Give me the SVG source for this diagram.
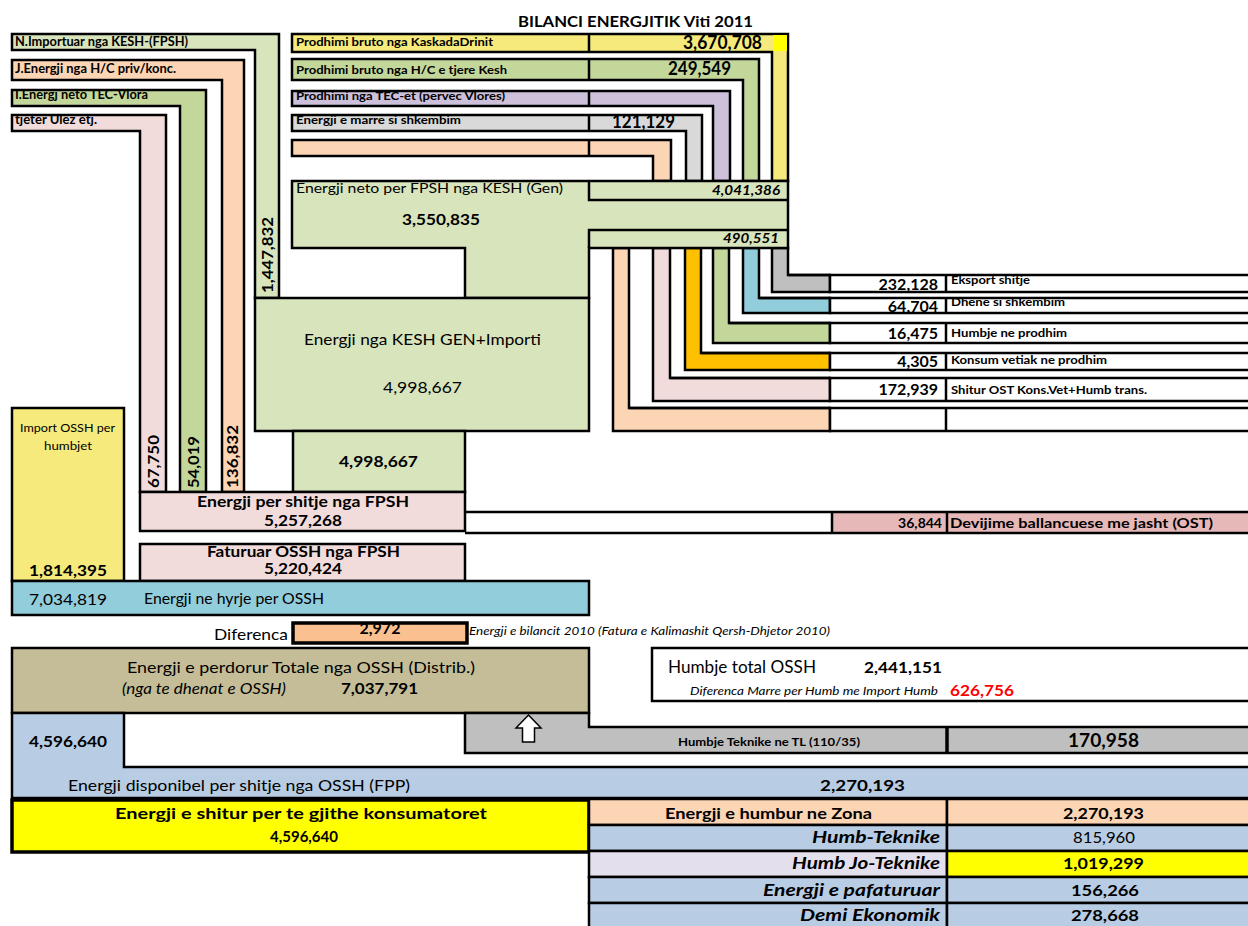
<svg xmlns="http://www.w3.org/2000/svg" width="1248" height="926" viewBox="0 0 1248 926">
<style>
text{font-family:Lato,"Liberation Sans",sans-serif;fill:#000}
.b{font-weight:bold}
.i{font-style:italic}
.k{stroke:#000;stroke-width:2.5}
.kt{stroke:#000;stroke-width:3.5}
.ln{stroke:#000;stroke-width:2.5;fill:none}
.w{fill:#fff}
.lg{fill:#D8E4BC}
.g{fill:#C4D79B}
.o{fill:#FCD5B4}
.p{fill:#F2DCDB}
.v{fill:#CCC0DA}
.gl{fill:#D9D9D9}
.y{fill:#F5EA7B}
.gr{fill:#BFBFBF}
.bl{fill:#92CDDC}
.bg{fill:#B8CCE4}
</style>
<rect width="1248" height="926" fill="#fff"/>
<text x="518" y="27" class="b" font-size="16" textLength="235" lengthAdjust="spacingAndGlyphs">BILANCI ENERGJITIK Viti 2011</text>

<g id="connectors">
  <polygon class="lg k" points="12,34 279,34 279,298 255,298 255,50 12,50"/>
  <polygon class="o k" points="12,60 244,60 244,492 222,492 222,80 12,80"/>
  <polygon class="g k" points="12,90 206,90 206,492 180,492 180,106 12,106"/>
  <polygon class="p k" points="12,115 166,115 166,492 140,492 140,131 12,131"/>
  <polygon class="y k" points="292,34 788,34 788,181 772,181 772,52 292,52"/>
  <rect x="773" y="35" width="14" height="16" fill="#FFFF00"/>
  <polygon class="g k" points="292,59 759,59 759,181 743,181 743,80 292,80"/>
  <polygon class="v k" points="292,91 730,91 730,181 713,181 713,106 292,106"/>
  <polygon class="gl k" points="292,115 702,115 702,181 686,181 686,131 292,131"/>
  <polygon class="o k" points="292,140 671,140 671,181 653,181 653,156 292,156"/>
  <path class="ln" d="M589,34V52M589,59V80M589,91V106M589,115V131M589,140V156"/>
  <polygon class="gr k" points="772,248 788,248 788,275 830,275 830,292 772,292"/>
  <polygon class="bl k" points="743,248 759,248 759,298 830,298 830,313 743,313"/>
  <polygon class="g k" points="713,248 729,248 729,323 830,323 830,343 713,343"/>
  <polygon fill="#FFC000" class="k" points="685,248 701,248 701,353 830,353 830,370 685,370"/>
  <polygon class="p k" points="653,248 670,248 670,378 830,378 830,401 653,401"/>
  <polygon class="o k" points="613,248 629,248 629,408 830,408 830,431 613,431"/>
</g>

<g id="in-labels">
  <text x="15" y="46" class="b" font-size="13" textLength="173" lengthAdjust="spacingAndGlyphs">N.Importuar nga KESH-(FPSH)</text>
  <text x="15" y="73" class="b" font-size="13" textLength="161" lengthAdjust="spacingAndGlyphs">J.Energji nga H/C priv/konc.</text>
  <text x="15" y="99" class="b" font-size="13" textLength="133" lengthAdjust="spacingAndGlyphs">I.Energj neto TEC-Vlora</text>
  <text x="15" y="124" class="b" font-size="13" textLength="82" lengthAdjust="spacingAndGlyphs">tjeter Ulez etj.</text>
  <text x="296" y="46" class="b" font-size="12" textLength="197" lengthAdjust="spacingAndGlyphs">Prodhimi bruto nga KaskadaDrinit</text>
  <text x="296" y="74" class="b" font-size="12" textLength="211" lengthAdjust="spacingAndGlyphs">Prodhimi bruto nga H/C e tjere Kesh</text>
  <text x="296" y="100" class="b" font-size="12" textLength="209" lengthAdjust="spacingAndGlyphs">Prodhimi nga TEC-et (pervec Vlores)</text>
  <text x="296" y="124" class="b" font-size="12" textLength="165" lengthAdjust="spacingAndGlyphs">Energji e marre si shkembim</text>
  <text x="683" y="49" class="b" font-size="18" textLength="79" lengthAdjust="spacingAndGlyphs">3,670,708</text>
  <text x="668" y="75" class="b" font-size="18" textLength="63" lengthAdjust="spacingAndGlyphs">249,549</text>
  <text x="612" y="128" class="b" font-size="18" textLength="63" lengthAdjust="spacingAndGlyphs">121,129</text>
  <g class="b" font-size="16">
    <text transform="translate(159,488) rotate(-90)" textLength="53" lengthAdjust="spacingAndGlyphs">67,750</text>
    <text transform="translate(199,488) rotate(-90)" textLength="52" lengthAdjust="spacingAndGlyphs">54,019</text>
    <text transform="translate(238,488) rotate(-90)" textLength="63" lengthAdjust="spacingAndGlyphs">136,832</text>
    <text transform="translate(273,293) rotate(-90)" textLength="76" lengthAdjust="spacingAndGlyphs">1,447,832</text>
  </g>
</g>

<g id="net-kesh">
  <polygon class="lg k" points="292,181 788,181 788,248 589,248 589,298 465,298 465,248 292,248"/>
  <path class="ln" d="M589,181V200H788M589,248V230H788"/>
  <text x="296" y="193" font-size="14" textLength="267" lengthAdjust="spacingAndGlyphs">Energji neto per FPSH nga KESH (Gen)</text>
  <text x="402" y="225" class="b" font-size="16" textLength="78" lengthAdjust="spacingAndGlyphs">3,550,835</text>
  <text x="712" y="195" class="b i" font-size="14" textLength="68" lengthAdjust="spacingAndGlyphs">4,041,386</text>
  <text x="723" y="243" class="b i" font-size="14" textLength="56" lengthAdjust="spacingAndGlyphs">490,551</text>
</g>

<g id="out-rows">
  <g class="w k">
    <rect x="830" y="275" width="420" height="17"/>
    <rect x="830" y="298" width="420" height="15"/>
    <rect x="830" y="323" width="420" height="20"/>
    <rect x="830" y="353" width="420" height="17"/>
    <rect x="830" y="378" width="420" height="23"/>
    <rect x="830" y="408" width="420" height="23"/>
  </g>
  <path class="ln" d="M788,275H830M759,298H830M729,323H830M701,353H830M670,378H830M629,408H830M946,275V292M946,298V313M946,323V343M946,353V370M946,378V401M946,408V431"/>
  <g class="b" font-size="16" text-anchor="end">
    <text x="938" y="290">232,128</text>
    <text x="938" y="312">64,704</text>
    <text x="938" y="339">16,475</text>
    <text x="938" y="367">4,305</text>
    <text x="938" y="395">172,939</text>
  </g>
  <g class="b" font-size="12">
    <text x="951" y="284" textLength="79" lengthAdjust="spacingAndGlyphs">Eksport shitje</text>
    <text x="951" y="306" textLength="114" lengthAdjust="spacingAndGlyphs">Dhene si shkembim</text>
    <text x="951" y="337" textLength="116" lengthAdjust="spacingAndGlyphs">Humbje ne prodhim</text>
    <text x="951" y="364" textLength="156" lengthAdjust="spacingAndGlyphs">Konsum vetiak ne prodhim</text>
    <text x="951" y="394" textLength="196" lengthAdjust="spacingAndGlyphs">Shitur OST Kons.Vet+Humb trans.</text>
  </g>
</g>

<g id="kesh-gen">
  <rect x="255" y="298" width="334" height="133" class="lg k"/>
  <text x="304" y="345" font-size="16" textLength="237" lengthAdjust="spacingAndGlyphs">Energji nga KESH GEN+Importi</text>
  <text x="383" y="393" font-size="16" textLength="79" lengthAdjust="spacingAndGlyphs">4,998,667</text>
</g>
<g id="kesh-gen-2">
  <rect x="293" y="431" width="172" height="61" class="lg k"/>
  <text x="339" y="467" class="b" font-size="16" textLength="79" lengthAdjust="spacingAndGlyphs">4,998,667</text>
</g>
<g id="shitje-fpsh">
  <rect x="140" y="492" width="325" height="39" class="p k"/>
  <text x="197" y="507" class="b" font-size="16" textLength="212" lengthAdjust="spacingAndGlyphs">Energji per shitje nga FPSH</text>
  <text x="264" y="526" class="b" font-size="16" textLength="78" lengthAdjust="spacingAndGlyphs">5,257,268</text>
</g>
<g id="devijime">
  <rect x="832" y="513" width="418" height="20" fill="#E6B8B7"/>
  <path class="ln" d="M465,512H1248M465,533H1248M832,513V533M947,513V533"/>
  <text x="942" y="528" class="b" font-size="14" text-anchor="end">36,844</text>
  <text x="950" y="528" class="b" font-size="14" textLength="263" lengthAdjust="spacingAndGlyphs">Devijime ballancuese me jasht (OST)</text>
</g>
<g id="faturuar">
  <rect x="140" y="544" width="325" height="37" class="p k"/>
  <text x="207" y="557" class="b" font-size="16" textLength="193" lengthAdjust="spacingAndGlyphs">Faturuar OSSH nga FPSH</text>
  <text x="264" y="574" class="b" font-size="16" textLength="78" lengthAdjust="spacingAndGlyphs">5,220,424</text>
</g>
<g id="import-ossh">
  <rect x="12" y="408" width="112" height="173" class="y k"/>
  <text x="20" y="432" font-size="12" textLength="95" lengthAdjust="spacingAndGlyphs">Import OSSH per</text>
  <text x="44" y="450" font-size="12" textLength="48" lengthAdjust="spacingAndGlyphs">humbjet</text>
  <text x="29" y="576" class="b" font-size="16" textLength="78" lengthAdjust="spacingAndGlyphs">1,814,395</text>
</g>
<g id="hyrje-ossh">
  <rect x="12" y="581" width="577" height="34" class="bl k"/>
  <text x="29" y="605" font-size="16" textLength="78" lengthAdjust="spacingAndGlyphs">7,034,819</text>
  <text x="144" y="604" font-size="15" textLength="180" lengthAdjust="spacingAndGlyphs">Energji ne hyrje per OSSH</text>
</g>
<g id="diferenca">
  <text x="214" y="640" font-size="16" textLength="74" lengthAdjust="spacingAndGlyphs">Diferenca</text>
  <rect x="293" y="623" width="174" height="20" fill="#FAC090" class="kt"/>
  <text x="380" y="634" class="b" font-size="16" text-anchor="middle">2,972</text>
  <text x="469" y="635" class="i" font-size="10.5" textLength="361" lengthAdjust="spacingAndGlyphs">Energji e bilancit 2010 (Fatura e Kalimashit Qersh-Dhjetor 2010)</text>
</g>
<g id="perdorur-totale">
  <rect x="12" y="648" width="577" height="65" fill="#C4BD97" class="k"/>
  <text x="127" y="673" font-size="16" textLength="348" lengthAdjust="spacingAndGlyphs">Energji e perdorur Totale nga OSSH (Distrib.)</text>
  <text x="122" y="694" class="i" font-size="15" textLength="164" lengthAdjust="spacingAndGlyphs">(nga te dhenat e OSSH)</text>
  <text x="341" y="694" class="b" font-size="16" textLength="77" lengthAdjust="spacingAndGlyphs">7,037,791</text>
</g>
<g id="humbje-total">
  <rect x="652" y="648" width="598" height="53" class="w k"/>
  <text x="668" y="673" font-size="17" textLength="148" lengthAdjust="spacingAndGlyphs">Humbje total OSSH</text>
  <text x="864" y="673" class="b" font-size="16" textLength="78" lengthAdjust="spacingAndGlyphs">2,441,151</text>
  <text x="690" y="695" class="i" font-size="11" textLength="248" lengthAdjust="spacingAndGlyphs">Diferenca Marre per Humb me Import Humb</text>
  <text x="950" y="696" class="b" font-size="16" style="fill:#FF0000" textLength="64" lengthAdjust="spacingAndGlyphs">626,756</text>
</g>
<g id="disponibel">
  <polygon class="bg k" points="12,713 124,713 124,767 1250,767 1250,798 12,798"/>
  <text x="29" y="747" class="b" font-size="16" textLength="78" lengthAdjust="spacingAndGlyphs">4,596,640</text>
  <text x="68" y="791" font-size="16" textLength="342" lengthAdjust="spacingAndGlyphs">Energji disponibel per shitje nga OSSH (FPP)</text>
  <text x="820" y="791" class="b" font-size="16" textLength="85" lengthAdjust="spacingAndGlyphs">2,270,193</text>
</g>
<g id="humbje-teknike-tl">
  <polygon class="gr k" points="465,713 589,713 589,727 1250,727 1250,753 465,753"/>
  <path d="M947,727V753" stroke="#000" stroke-width="3.5"/>
  <path d="M528.5,715L541,728H534.5V742H522.5V728H516Z" fill="#fff" stroke="#000" stroke-width="1.5"/>
  <text x="678" y="746" class="b" font-size="11" textLength="182" lengthAdjust="spacingAndGlyphs">Humbje Teknike ne TL (110/35)</text>
  <text x="1068" y="747" class="b" font-size="18" textLength="71" lengthAdjust="spacingAndGlyphs">170,958</text>
</g>
<g id="shitur-konsumatoret">
  <rect x="12" y="800" width="577" height="52" fill="#FFFF00" class="kt"/>
  <text x="115" y="819" class="b" font-size="16" textLength="372" lengthAdjust="spacingAndGlyphs">Energji e shitur per te gjithe konsumatoret</text>
  <text x="270" y="842" class="b" font-size="16" textLength="68" lengthAdjust="spacingAndGlyphs">4,596,640</text>
</g>
<g id="humbur-zona">
  <rect x="589" y="799" width="358" height="26" class="o k"/>
  <rect x="947" y="799" width="303" height="26" class="o k"/>
  <rect x="589" y="825" width="358" height="26" class="bg k"/>
  <rect x="947" y="825" width="303" height="26" class="bg k"/>
  <rect x="589" y="851" width="358" height="26" fill="#E4DFEC" class="k"/>
  <rect x="947" y="851" width="303" height="26" fill="#FFFF00" class="k"/>
  <rect x="589" y="877" width="358" height="26" class="bg k"/>
  <rect x="947" y="877" width="303" height="26" class="bg k"/>
  <rect x="589" y="903" width="358" height="26" class="bg k"/>
  <rect x="947" y="903" width="303" height="26" class="bg k"/>
  <text x="665" y="819" class="b" font-size="16" textLength="207" lengthAdjust="spacingAndGlyphs">Energji e humbur ne Zona</text>
  <text x="1063" y="819" class="b" font-size="16" textLength="81" lengthAdjust="spacingAndGlyphs">2,270,193</text>
  <g class="b i" font-size="17">
    <text x="812" y="843" textLength="128" lengthAdjust="spacingAndGlyphs">Humb-Teknike</text>
    <text x="792" y="869" textLength="148" lengthAdjust="spacingAndGlyphs">Humb Jo-Teknike</text>
    <text x="763" y="896" textLength="177" lengthAdjust="spacingAndGlyphs">Energji e pafaturuar</text>
    <text x="800" y="921" textLength="140" lengthAdjust="spacingAndGlyphs">Demi Ekonomik</text>
  </g>
  <text x="1073" y="843" font-size="16" textLength="62" lengthAdjust="spacingAndGlyphs">815,960</text>
  <text x="1063" y="869" class="b" font-size="16" textLength="81" lengthAdjust="spacingAndGlyphs">1,019,299</text>
  <text x="1071" y="896" class="b" font-size="16" textLength="68" lengthAdjust="spacingAndGlyphs">156,266</text>
  <text x="1071" y="921" class="b" font-size="16" textLength="68" lengthAdjust="spacingAndGlyphs">278,668</text>
</g>
</svg>
